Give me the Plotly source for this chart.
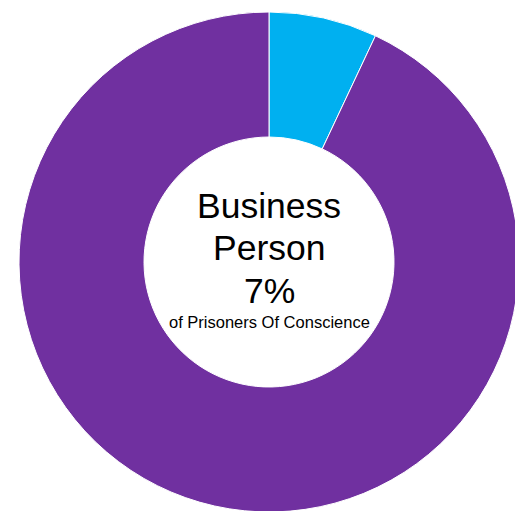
import plotly.graph_objects as go

labels = ["Business Person", "Other"]
values = [7, 93]
colors = ["#00B0F0", "#7030A0"]

center_title = ["Business", "Person"]
center_pct = "7%"
center_sub = "of Prisoners Of Conscience"

fig = go.Figure(go.Pie(
    labels=labels,
    values=values,
    hole=0.5,
    sort=False,
    direction="clockwise",
    rotation=0,
    marker=dict(colors=colors, line=dict(color="white", width=1)),
    textinfo="none",
    hoverinfo="label+percent",
    showlegend=False,
))

W, H = 540, 512
L, R, T, B = 19, 21, 12, 0
font_family = "Liberation Sans, Arial, sans-serif"
anns = [
    dict(text=center_title[0], y=219, size=35.5),
    dict(text=center_title[1], y=261.5, size=35.5),
    dict(text=center_pct, y=304, size=35.5),
    dict(text=center_sub, y=328.5, size=16.5),
]
for a in anns:
    yp = (H - B - a["y"]) / (H - T - B)
    fig.add_annotation(
        text=a["text"], x=0.5, y=yp, xref="paper", yref="paper",
        xanchor="center", yanchor="bottom", showarrow=False,
        font=dict(family=font_family, size=a["size"], color="black"),
        yshift=-a["size"] * 0.25,
    )

fig.update_layout(
    width=W, height=H,
    margin=dict(l=L, r=R, t=T, b=B),
    paper_bgcolor="white",
    plot_bgcolor="white",
)

post = ("document.body.style.margin='0';"
        "document.body.style.overflow='hidden';"
        "document.documentElement.style.overflow='hidden';")
fig.write_html("out.html", post_script=post, config={"displayModeBar": False})
